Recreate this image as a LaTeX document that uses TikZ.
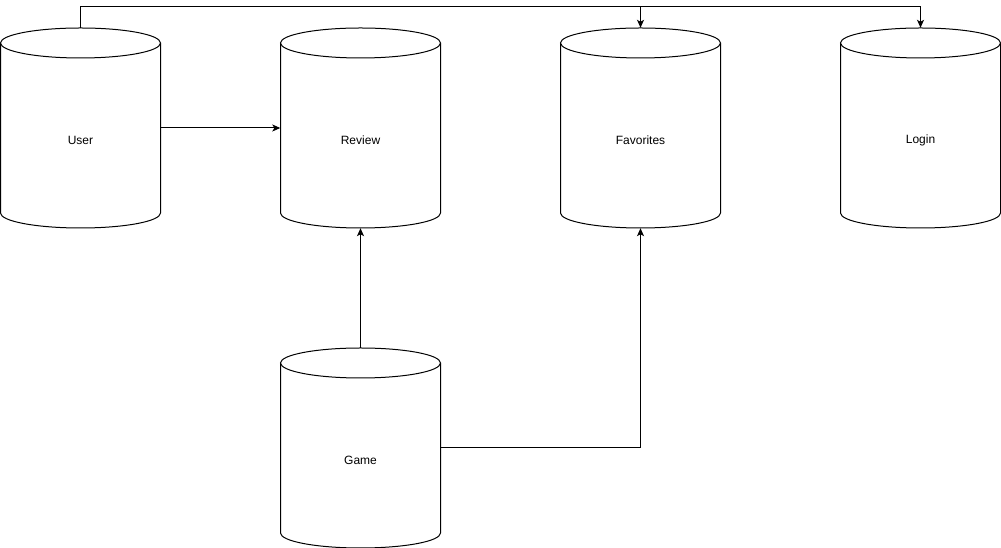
\documentclass[tikz,border=0pt]{standalone}
\usepackage{fontspec}
\setmainfont{Liberation Sans}
\usetikzlibrary{arrows.meta}
\tikzset{
  cylbox/.style={minimum width=160pt,minimum height=200pt,inner sep=0pt,draw=none},
  conn/.style={line width=1pt,-{Stealth[length=8pt,width=7pt,inset=2pt]}},
  lbl/.style={font=\fontsize{12}{14}\selectfont,inner sep=0pt}
}
\newcommand\mycyl[5]{% name, left x, top y, label, label y
  \draw[line width=1pt,fill=white] (#2,#3-15) -- (#2,#3-185) arc[start angle=180,end angle=360,x radius=80,y radius=15] -- (#2+160,#3-15);
  \draw[line width=1pt,fill=white] (#2+80,#3-15) ellipse[x radius=80,y radius=15];
  \node[cylbox] (#1) at (#2+80,#3-100) {};
  \node[lbl] (#1lbl) at (#2+80,#5) {#4};
}
\begin{document}
\begin{tikzpicture}[x=1pt,y=1pt]
\useasboundingbox (0,0) rectangle (1001,548);
\mycyl{user}{0.5}{520}{User}{408}
\mycyl{review}{280.5}{520}{Review}{408}
\mycyl{fav}{560.5}{520}{Favorites}{408}
\mycyl{login}{840.5}{520}{Login}{408}
\mycyl{game}{280.5}{200}{Game}{87.5}
\coordinate (topline) at (80.5,541);
\draw[conn] (user.north) |- (topline) -| (fav.north);
\draw[conn] (user.north) |- (topline) -| (login.north);
\draw[conn] (user.east) -- (review.west);
\draw[conn] (game.north) -- (review.south);
\draw[conn] (game.east) -| (fav.south);
\end{tikzpicture}
\end{document}
